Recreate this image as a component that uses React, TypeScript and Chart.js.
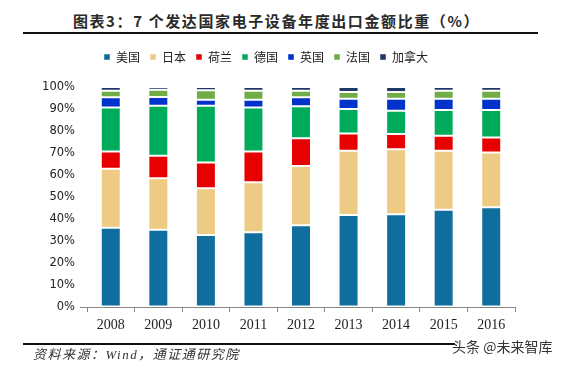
import React, { useEffect, useRef } from "react";
import { Chart, registerables } from "chart.js";

Chart.register(...registerables);

const years = ["2008", "2009", "2010", "2011", "2012", "2013", "2014", "2015", "2016"];
const usa = [36.0, 35.1, 32.7, 34.0, 37.2, 41.8, 42.2, 44.2, 45.3];
const japan = [26.8, 23.4, 21.3, 22.7, 26.9, 29.2, 29.5, 26.8, 24.9];
const netherlands = [7.9, 10.3, 11.7, 14.0, 12.6, 7.9, 6.9, 6.8, 6.9];
const germany = [20.0, 22.7, 25.8, 20.0, 14.5, 11.1, 10.6, 11.7, 12.4];
const uk = [4.6, 3.9, 2.7, 3.5, 4.1, 4.7, 5.5, 5.2, 5.2];
const france = [3.0, 3.4, 4.3, 4.1, 3.0, 3.0, 3.0, 3.6, 3.6];
const canada = [1.7, 1.2, 1.5, 1.7, 1.7, 2.3, 2.3, 1.7, 1.7];
const yTicks = [0, 10, 20, 30, 40, 50, 60, 70, 80, 90, 100];

const seriesNames = ["美国", "日本", "荷兰", "德国", "英国", "法国", "加拿大"];
const seriesData = [usa, japan, netherlands, germany, uk, france, canada];
const seriesColors = ["#0F6E9E", "#EDCB85", "#E60000", "#00AC5C", "#0033CC", "#70AD47", "#203864"];

const legendSpacer = {
  id: "legendSpacer",
  beforeInit(chart: any) {
    const orig = chart.legend.fit;
    chart.legend.fit = function () {
      orig.bind(chart.legend)();
      this.height += 14;
    };
  },
};

export default function App() {
  const ref = useRef<HTMLCanvasElement | null>(null);

  useEffect(() => {
    if (!ref.current) return;
    const chart = new Chart(ref.current, {
      type: "bar",
      data: {
        labels: years,
        datasets: seriesNames.map((name, i) => ({
          label: name,
          data: seriesData[i],
          backgroundColor: seriesColors[i],
          borderColor: "rgba(255,255,255,0.45)",
          borderWidth: 1,
          borderSkipped: false,
          categoryPercentage: 1,
          barPercentage: 0.42,
        })),
      },
      plugins: [legendSpacer],
      options: {
        responsive: false,
        animation: false,
        devicePixelRatio: 1,
        layout: { padding: { left: 17, right: 50, top: 41, bottom: 32 } },
        plugins: {
          tooltip: { enabled: false },
          legend: {
            position: "top",
            labels: {
              boxWidth: 6,
              boxHeight: 6,
              padding: 10,
              color: "#222",
              font: { family: "'Noto Sans CJK SC', sans-serif", size: 12 },
            },
          },
        },
        scales: {
          x: {
            stacked: true,
            offset: true,
            border: { display: true, color: "#888", width: 1 },
            grid: { display: true, drawOnChartArea: false, tickLength: 5, color: "#888", offset: true },
            ticks: {
              color: "#222",
              padding: 5,
              font: { family: "'Liberation Serif', serif", size: 14 },
            },
            afterFit: (s: any) => { s.height = 30; },
          },
          y: {
            stacked: true,
            min: 0,
            max: 100,
            border: { display: false },
            grid: {
              display: true,
              drawOnChartArea: false,
              tickLength: 7,
              color: (ctx: any) => (ctx.tick && ctx.tick.value === 0 ? "#888" : "rgba(0,0,0,0)"),
            },
            afterBuildTicks: (s: any) => { s.ticks = yTicks.map((v) => ({ value: v })); },
            ticks: {
              color: "#222",
              padding: 5,
              font: { family: "'DejaVu Sans', sans-serif", size: 11.5 },
              callback: (v: any) => v + "%",
            },
            afterFit: (s: any) => { s.width = 70; },
          },
        },
      },
    });
    return () => chart.destroy();
  }, []);

  return (
    <div style={{ position: "fixed", left: 0, top: 0, width: 565, height: 369, background: "#fff", overflow: "hidden" }}>
      <div
        style={{
          position: "absolute", left: 0, width: 553, top: 10, textAlign: "center",
          fontFamily: "'Noto Sans CJK SC', sans-serif", fontWeight: "bold", fontSize: 15, lineHeight: "21px",
          letterSpacing: 1.6, color: "#2a2a2a",
        }}
      >
        图表3：7 个发达国家电子设备年度出口金额比重（%）
      </div>
      <div style={{ position: "absolute", left: 23, width: 515, top: 32, height: 2, background: "#111" }} />
      <canvas ref={ref} width={565} height={369} style={{ position: "absolute", left: 0, top: 0 }} />
      <div style={{ position: "absolute", left: 23, width: 432, top: 343, height: 2, background: "#111" }} />
      <div
        style={{
          position: "absolute", left: 33, top: 346, fontFamily: "'Liberation Serif', 'Noto Sans CJK SC', serif",
          fontStyle: "italic", fontSize: 13, lineHeight: "18px", letterSpacing: 1.5, color: "#333",
        }}
      >
        资料来源：Wind，通证通研究院
      </div>
      <div
        style={{
          position: "absolute", left: 452, top: 337, fontFamily: "'Noto Sans CJK SC', sans-serif",
          fontSize: 14, lineHeight: "18px", color: "#333",
        }}
      >
        头条 @未来智库
      </div>
    </div>
  );
}
